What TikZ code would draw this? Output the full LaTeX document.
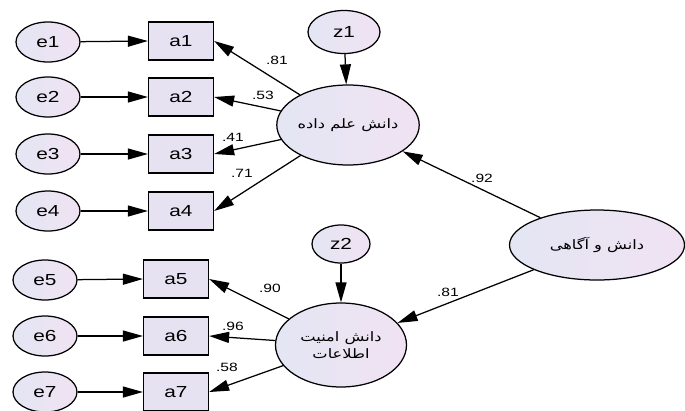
\documentclass[tikz,border=0pt]{standalone}
\usepackage{fontspec}
\usetikzlibrary{arrows.meta,shapes.geometric}
\setmainfont[FakeStretch=1.3]{Liberation Sans}
\newfontfamily\fa[Script=Arabic,FakeStretch=1.25]{DejaVu Sans}
\TeXXeTstate=1
\definecolor{lila}{RGB}{230,226,242}
\definecolor{lilaA}{RGB}{228,230,244}
\definecolor{lilaB}{RGB}{240,226,242}
\begin{document}
\begin{tikzpicture}[x=1pt, y=-1pt, line width=1.25pt,
				flecha/.style={-{Triangle[length=20pt, width=11pt]}},
				nodo/.style={ellipse, draw, left color=lilaA, right color=lilaB, minimum width=64pt, minimum height=40pt, inner sep=0pt, font=\fontsize{16}{16}\selectfont},
				caja/.style={rectangle, draw, fill=lila, minimum width=65pt, minimum height=38pt, inner sep=0pt, font=\fontsize{16}{16}\selectfont},
				latente/.style={ellipse, draw, left color=lilaA, right color=lilaB, inner sep=0pt, align=center, font=\fa\fontsize{13}{17}\selectfont},
				peso/.style={font=\fontsize{12}{12}\selectfont}]
				\useasboundingbox (0,0) rectangle (685,410);
				\node[nodo] (e1) at (48,42) {e1};
				\node[nodo] (e2) at (48,97) {e2};
				\node[nodo] (e3) at (48,154) {e3};
				\node[nodo] (e4) at (48,211) {e4};
				\node[nodo] (e5) at (45,280) {e5};
				\node[nodo] (e6) at (45,336) {e6};
				\node[nodo] (e7) at (45,392) {e7};
				\node[caja] (a1) at (181,41) {a1};
				\node[caja] (a2) at (181,97) {a2};
				\node[caja] (a3) at (181,154) {a3};
				\node[caja] (a4) at (181,211) {a4};
				\node[caja] (a5) at (176,279) {a5};
				\node[caja] (a6) at (176,336) {a6};
				\node[caja] (a7) at (176,392) {a7};
				\node[nodo, minimum width=72pt, minimum height=43pt] (z1) at (344,32) {z1};
				\node[nodo, minimum width=58pt, minimum height=38pt] (z2) at (341,244) {z2};
				\node[latente, minimum width=137pt, minimum height=80pt] (dd) at (348,125) {\beginR دانش علم داده\endR};
				\node[latente, minimum width=131pt, minimum height=84pt] (ai) at (341,345) {\beginR دانش امنیت\endR\\\beginR اطلاعات\endR};
				\node[latente, minimum width=175pt, minimum height=70pt] (da) at (597,245) {\beginR دانش و آگاهی\endR};
				\foreach \i in {1,...,7}
					\draw[flecha] (e\i) -- (a\i.west);
				\foreach \i in {1,...,4}
					\draw[flecha] (dd) -- (a\i.east);
				\foreach \i in {5,6,7}
					\draw[flecha] (ai) -- (a\i.east);
				\draw[flecha] (z1) -- (dd);
				\draw[flecha] (z2) -- (ai);
				\draw[flecha] (da) -- (dd);
				\draw[flecha] (da) -- (ai);
				\node[peso] (p1) at (277,60) {.81};
				\node[peso] (p2) at (263,95) {.53};
				\node[peso] (p3) at (233,137) {.41};
				\node[peso] (p4) at (242,173) {.71};
				\node[peso] (p5) at (270,288) {.90};
				\node[peso] (p6) at (233,326) {.96};
				\node[peso] (p7) at (227,367) {.58};
				\node[peso] (p8) at (482,178) {.92};
				\node[peso] (p9) at (448,292) {.81};
			\end{tikzpicture}
\end{document}
